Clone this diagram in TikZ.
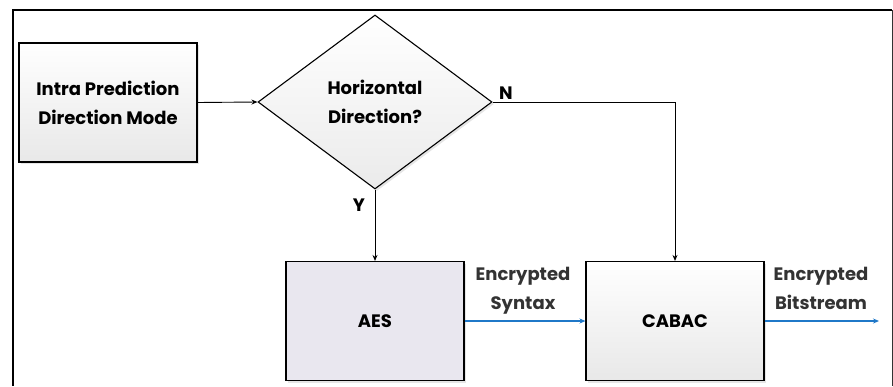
\documentclass[tikz,border=0pt]{standalone}
\usepackage{fontspec}
\setmainfont{Poppins}
\usetikzlibrary{shapes.geometric,shadows,arrows.meta}
\definecolor{arrblue}{HTML}{1F78C8}
\definecolor{txtgray}{HTML}{333333}
\definecolor{aesfill}{HTML}{E9E7EF}
\tikzset{
  boxshadow/.style={drop shadow={shadow xshift=2pt,shadow yshift=-2pt,fill=black!20,opacity=0.5}},
  procbox/.style={draw=black,line width=1.1pt,minimum width=178pt,minimum height=119pt,inner sep=0pt,align=center,font=\fontsize{18}{29}\selectfont\bfseries,boxshadow},
  gradfill/.style={top color=white,bottom color=black!9},
  decision/.style={draw=black,line width=1.1pt,diamond,minimum width=234pt,minimum height=174pt,inner sep=0pt,aspect=1.34,align=center,font=\fontsize{18}{29}\selectfont\bfseries,boxshadow,top color=white,bottom color=black!8},
  blk/.style={draw=black,line width=0.9pt,-{Stealth[length=6pt,width=5pt]}},
  blu/.style={draw=arrblue,line width=1.1pt,-{Stealth[length=6pt,width=5pt]}},
  lbl/.style={font=\fontsize{18}{29}\selectfont\bfseries,align=center,text=txtgray},
  yn/.style={font=\fontsize{18}{20}\selectfont\bfseries}
}
\begin{document}
\begin{tikzpicture}[x=1pt,y=-1pt]
\useasboundingbox (0,0) rectangle (893,386);
% frame
\draw[line width=2pt] (13,9.5) -- (13,386);
\draw[line width=1.6pt] (12,10) -- (892,10);
\draw[line width=1pt,black!80] (892,10) -- (892,386);
% nodes
\node[procbox,gradfill] (ipd) at (108,102.5) {Intra Prediction\\Direction Mode};
\node[decision] (hd) at (375,102) {Horizontal\\Direction?};
\node[procbox,fill=aesfill] (aes) at (375,321) {AES};
\node[procbox,gradfill] (cabac) at (675,321) {CABAC};
\coordinate (out) at (879,321);
% connectors
\draw[blk] (ipd.east) -- (hd.west);
\draw[blk] (hd.east) -| (cabac.north);
\draw[blk] (hd.south) -- (aes.north);
\draw[blu] (aes.east) -- (cabac.west);
\draw[blu] (cabac.east) -- (out);
% labels
\node[yn] (n) at (506,93) {N};
\node[yn] (y) at (359,205) {Y};
\node[lbl] (es) at (523,291) {Encrypted\\Syntax};
\node[lbl] (eb) at (821,291) {Encrypted\\Bitstream\vphantom{y}};
\end{tikzpicture}
\end{document}
